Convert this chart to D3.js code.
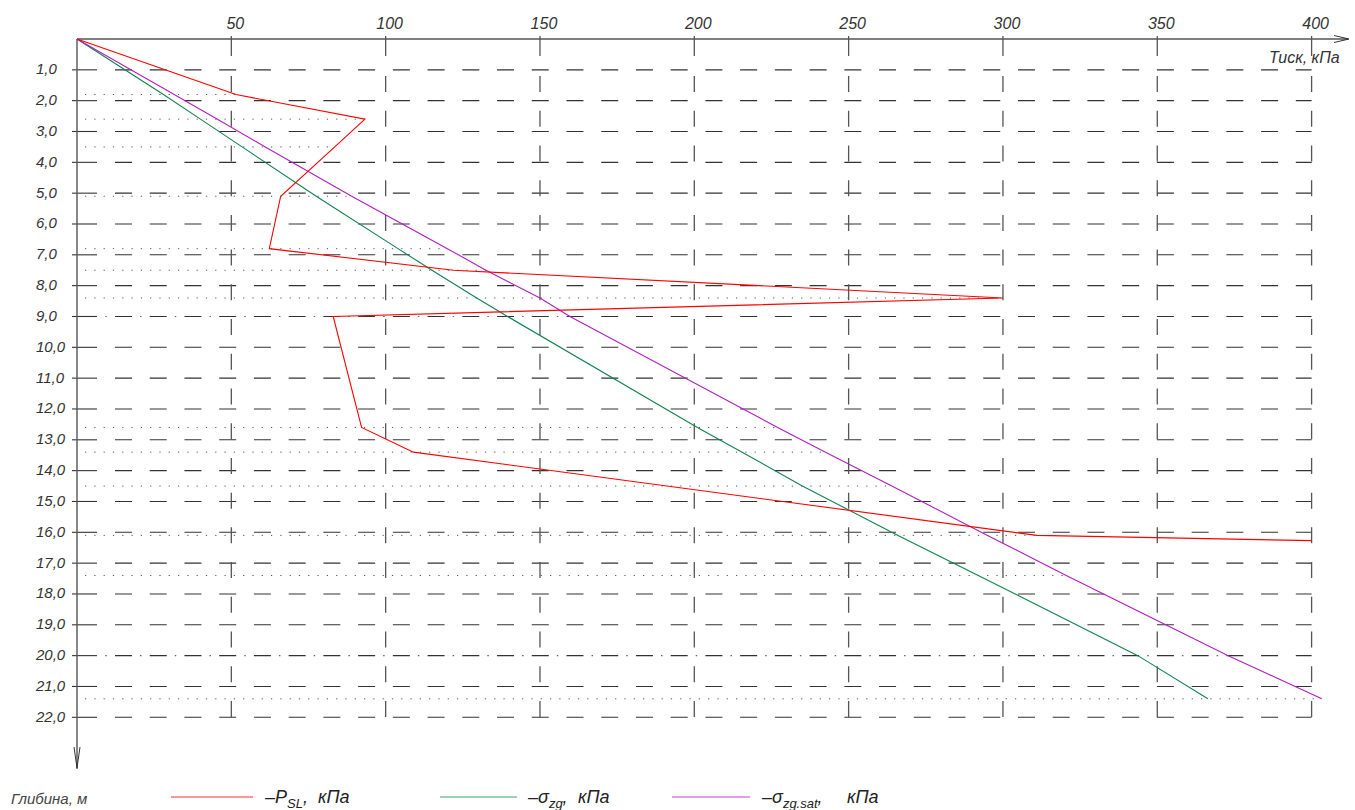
<!DOCTYPE html>
<html><head><meta charset="utf-8">
<script src="https://cdn.jsdelivr.net/npm/d3@7"></script>
<style>
body{margin:0;background:#fff;}
svg text{font-family:"Liberation Sans","DejaVu Sans",sans-serif;font-style:italic;}
</style></head><body>
<svg id="c" width="1355" height="810"></svg>
<script>
// ---- data ----
const pressureTicks = [50, 100, 150, 200, 250, 300, 350, 400];
const depthTicks = [1,2,3,4,5,6,7,8,9,10,11,12,13,14,15,16,17,18,19,20,21,22];
const depthTickLabels = ["1,0","2,0","3,0","4,0","5,0","6,0","7,0","8,0","9,0","10,0","11,0","12,0","13,0","14,0","15,0","16,0","17,0","18,0","19,0","20,0","21,0","22,0"];

// P_SL (red)
const pslDepth = [0, 1.8, 2.6, 3.5, 5.1, 6.8, 7.5, 8.4, 9.0, 12.6, 13.4, 16.1, 16.27];
const pslValue = [0, 51.5, 93.3, 83.5, 66, 62.3, 122, 300, 83, 92.2, 109, 311, 400];

// sigma_zg (green) and sigma_zg.sat (purple)
const sigmaDepth = [0, 1.8, 2.6, 3.5, 5.1, 6.8, 7.5, 8.4, 9.0, 12.6, 13.4, 14.5, 16.1, 17.4, 20.0, 21.4];
const sigmaZg    = [0, 28, 40, 53.5, 77.5, 104, 115, 129.5, 139.5, 201, 215.5, 235, 266, 292, 343.7, 366.4];
const sigmaZgSat = [0, 31.5, 45.5, 61, 89, 120, 132.5, 150, 159.7, 227, 242.5, 264, 295, 320.5, 373, 403.3];

// layer boundaries (dotted) and water levels (dash-dot)
const layerDepths = [1.8, 2.6, 3.5, 5.1, 6.8, 7.5, 8.4, 12.6, 13.4, 14.5, 16.1, 17.4, 21.4];
const waterDepths = [9.0, 20.0];

// ---- drawing ----
const svg = d3.select("#c");
const x = d3.scaleLinear().domain([0, 400]).range([77, 1311.6]);
const y = d3.scaleLinear().domain([0, 22]).range([39, 717.3]);

function interp(ds, vs, d) {
  for (let i = 0; i < ds.length - 1; i++) {
    if (d >= ds[i] && d <= ds[i+1]) {
      if (ds[i+1] === ds[i]) return vs[i];
      return vs[i] + (vs[i+1]-vs[i])*(d-ds[i])/(ds[i+1]-ds[i]);
    }
  }
  return 0;
}
function endValue(d){
  return Math.max(interp(pslDepth, pslValue, d), interp(sigmaDepth, sigmaZgSat, d));
}

const g = svg.append("g");

// horizontal grid
depthTicks.forEach(d => {
  g.append("line").attr("x1", 72).attr("x2", 97).attr("y1", y(d)).attr("y2", y(d))
    .attr("stroke", "#333").attr("stroke-width", 1.1);
  g.append("line").attr("x1", 115).attr("x2", x(400)).attr("y1", y(d)).attr("y2", y(d))
    .attr("stroke", "#333").attr("stroke-width", 1.1).attr("stroke-dasharray", "17 17.73");
});

// vertical grid
pressureTicks.forEach(p => {
  g.append("line").attr("x1", x(p)).attr("x2", x(p)).attr("y1", 36).attr("y2", 56)
    .attr("stroke", "#555").attr("stroke-width", 1.3);
  g.append("line").attr("x1", x(p)).attr("x2", x(p)).attr("y1", 76).attr("y2", y(22))
    .attr("stroke", "#555").attr("stroke-width", 1.3).attr("stroke-dasharray", "16 18.72");
});

// dotted layer boundaries
layerDepths.forEach(d => {
  g.append("line").attr("x1", 85).attr("x2", x(endValue(d))).attr("y1", y(d)).attr("y2", y(d))
    .attr("stroke", "#555").attr("stroke-width", 1).attr("stroke-dasharray", "1.2 8.1");
});
// dash-dot water levels (dots placed in grid gaps)
waterDepths.forEach(d => {
  g.append("line").attr("x1", 105.3).attr("x2", x(endValue(d))).attr("y1", y(d)).attr("y2", y(d))
    .attr("stroke", "#666").attr("stroke-width", 1.2).attr("stroke-dasharray", "1.5 33.23");
});

// axes
g.append("line").attr("x1", 77).attr("x2", 1348).attr("y1", 39).attr("y2", 39)
  .attr("stroke", "#555").attr("stroke-width", 1.4);
g.append("path").attr("d", "M1334,35.5 L1349,39 L1334,42.5").attr("fill", "none")
  .attr("stroke", "#333").attr("stroke-width", 1);
g.append("line").attr("x1", 77).attr("x2", 77).attr("y1", 39).attr("y2", 769)
  .attr("stroke", "#555").attr("stroke-width", 1.4);
g.append("path").attr("d", "M74,747 L77,768 L80,747").attr("fill", "none")
  .attr("stroke", "#333").attr("stroke-width", 1);

// tick labels
g.selectAll(".xl").data(pressureTicks).enter().append("text")
  .attr("x", p => x(p) + 4).attr("y", 29).attr("text-anchor", "middle")
  .attr("font-size", 16).attr("fill", "#333").text(p => p);
g.selectAll(".yl").data(depthTicks).enter().append("text")
  .attr("x", 36).attr("y", (d) => y(d) + 4.5)
  .attr("font-size", 15).attr("fill", "#333").text((d, i) => depthTickLabels[i]);

g.append("text").attr("x", 1269).attr("y", 63).attr("font-size", 16).attr("fill", "#333").text("Тиск, кПа");

// curves
const line = d3.line().x(d => x(d[1])).y(d => y(d[0]));
const zg = sigmaDepth.map((d, i) => [d, sigmaZg[i]]);
const zgs = sigmaDepth.map((d, i) => [d, sigmaZgSat[i]]);
const psl = pslDepth.map((d, i) => [d, pslValue[i]]);
g.append("path").attr("d", line(zg)).attr("fill", "none").attr("stroke", "#12844e").attr("stroke-width", 1.1);
g.append("path").attr("d", line(zgs)).attr("fill", "none").attr("stroke", "#b020c0").attr("stroke-width", 1.1);
g.append("path").attr("d", line(psl)).attr("fill", "none").attr("stroke", "#ff0000").attr("stroke-width", 1.1);

// legend
g.append("text").attr("x", 11).attr("y", 804).attr("font-size", 15).attr("fill", "#444").text("Глибина, м");
const legend = [
  {x1: 171, x2: 253, tx: 265, kx: 318, color: "#ff3030", sub: "SL", sym: "P"},
  {x1: 440, x2: 517, tx: 528, kx: 578, color: "#3aa870", sub: "zg", sym: "σ"},
  {x1: 672, x2: 750, tx: 762, kx: 847, color: "#c040d0", sub: "zg.sat", sym: "σ"}
];
legend.forEach(l => {
  g.append("line").attr("x1", l.x1).attr("x2", l.x2).attr("y1", 797).attr("y2", 797)
    .attr("stroke", l.color).attr("stroke-width", 1.2);
  const t = g.append("text").attr("x", l.tx).attr("y", 803).attr("font-size", 18).attr("fill", "#222");
  t.append("tspan").text("–" + l.sym);
  t.append("tspan").attr("font-size", 13).attr("dy", 5).text(l.sub);
  t.append("tspan").attr("dy", -5).text(",");
  t.append("tspan").attr("x", l.kx).text("кПа");
});
</script>
</body></html>
